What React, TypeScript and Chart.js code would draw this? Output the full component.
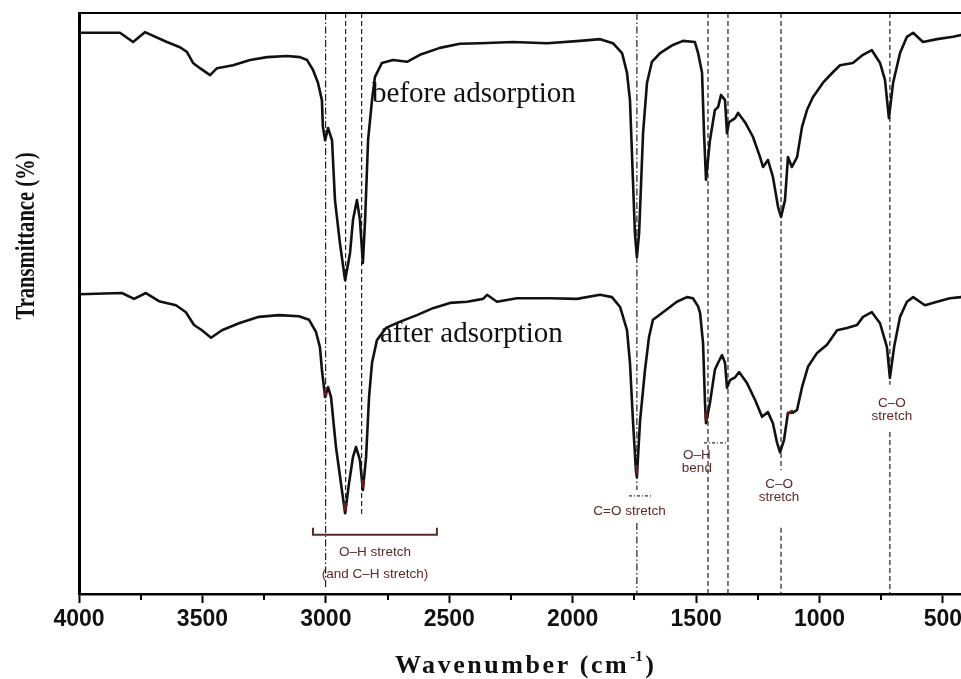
import React, { useEffect, useRef } from 'react';
import { Chart, registerables } from 'chart.js';

Chart.register(...registerables);

// ---------- axis ticks ----------
const WAVENUMBER_TICKS = [4000, 3500, 3000, 2500, 2000, 1500, 1000, 500];
const MINOR_TICKS = [3750, 3250, 2750, 2250, 1750, 1250, 750];

// ---------- spectrum: before adsorption ----------
const BEFORE_WN = [4000, 3834, 3781, 3733, 3644, 3591, 3563, 3538, 3510, 3469, 3441, 3376, 3307, 3238, 3157, 3105, 3076, 3052, 3032, 3016, 3012, 3003, 2991, 2975, 2963, 2943, 2922, 2902, 2890, 2874, 2862, 2850, 2841, 2829, 2813, 2801, 2773, 2728, 2671, 2619, 2538, 2457, 2376, 2242, 2104, 1970, 1889, 1837, 1800, 1780, 1768, 1756, 1748, 1740, 1731, 1715, 1699, 1679, 1646, 1594, 1553, 1505, 1492, 1476, 1468, 1460, 1444, 1424, 1411, 1399, 1383, 1375, 1367, 1342, 1330, 1302, 1270, 1241, 1229, 1209, 1189, 1168, 1156, 1140, 1128, 1112, 1091, 1071, 1051, 1027, 986, 946, 917, 865, 824, 788, 755, 735, 719, 702, 674, 646, 621, 581, 524, 459, 427, 269];
const BEFORE_T = [96.6, 96.6, 95.0, 96.7, 95.0, 94.1, 93.3, 91.4, 90.5, 89.3, 90.5, 91.0, 91.9, 92.4, 92.6, 92.4, 91.9, 90.2, 88.0, 85.0, 80.4, 78.1, 80.2, 78.1, 67.8, 60.4, 54.0, 58.7, 64.4, 67.8, 64.4, 57.0, 64.4, 78.1, 85.0, 89.0, 91.4, 91.9, 91.6, 92.8, 94.0, 94.7, 94.8, 95.0, 94.8, 95.2, 95.5, 94.8, 93.1, 89.7, 85.0, 71.3, 62.1, 58.0, 62.1, 79.3, 88.0, 91.6, 93.1, 94.5, 95.2, 95.0, 93.1, 89.7, 79.3, 71.3, 78.1, 83.3, 83.8, 85.9, 85.0, 79.3, 81.2, 81.9, 82.8, 81.2, 78.7, 75.2, 73.5, 74.7, 71.8, 66.6, 64.9, 67.8, 75.2, 73.5, 75.2, 80.4, 83.3, 85.5, 88.0, 89.8, 91.0, 91.4, 92.8, 93.6, 91.4, 88.5, 81.9, 88.0, 93.1, 95.9, 96.6, 95.0, 95.5, 95.9, 96.2, 96.2];

// ---------- spectrum: after adsorption ----------
const AFTER_WN = [4000, 3826, 3777, 3729, 3676, 3607, 3567, 3534, 3502, 3465, 3421, 3352, 3271, 3190, 3109, 3068, 3040, 3024, 3016, 3003, 2991, 2979, 2959, 2939, 2922, 2906, 2890, 2878, 2862, 2850, 2837, 2825, 2813, 2793, 2756, 2704, 2631, 2566, 2497, 2428, 2363, 2347, 2307, 2226, 2092, 1983, 1889, 1841, 1808, 1780, 1768, 1756, 1744, 1740, 1727, 1707, 1691, 1675, 1634, 1578, 1537, 1513, 1492, 1484, 1472, 1464, 1460, 1444, 1424, 1411, 1395, 1383, 1375, 1363, 1342, 1326, 1294, 1261, 1233, 1209, 1189, 1172, 1160, 1144, 1128, 1108, 1091, 1071, 1047, 1010, 970, 929, 889, 848, 824, 788, 755, 727, 715, 698, 674, 646, 621, 573, 524, 472, 427, 269];
const AFTER_T = [51.6, 51.8, 50.8, 51.8, 50.4, 49.7, 48.5, 46.3, 45.4, 44.1, 45.4, 46.6, 47.7, 48.0, 47.8, 47.2, 45.1, 42.5, 38.6, 33.9, 35.6, 33.9, 25.3, 19.1, 13.9, 19.1, 23.6, 25.3, 23.1, 17.9, 23.6, 33.9, 39.8, 43.7, 45.8, 46.8, 48.0, 49.2, 50.1, 50.3, 50.8, 51.5, 50.3, 50.9, 50.9, 50.8, 51.5, 51.1, 49.4, 45.4, 39.8, 29.9, 21.3, 20.1, 29.9, 38.6, 44.2, 47.2, 48.5, 50.3, 51.1, 50.9, 49.5, 48.4, 43.2, 32.9, 29.4, 32.9, 38.6, 39.8, 41.1, 39.8, 35.5, 36.8, 37.3, 38.2, 36.3, 33.4, 30.5, 31.3, 29.4, 26.0, 24.4, 26.5, 31.2, 31.2, 31.7, 35.6, 39.1, 41.5, 42.9, 45.4, 45.8, 46.3, 47.7, 48.5, 46.6, 42.5, 37.2, 42.5, 47.7, 50.3, 51.1, 49.7, 50.3, 50.9, 51.1, 51.1];

// dark-red highlighted bits on the "after" trace (null = break)
const HIGHLIGHT_WN = [3005, 2999, null, 2926, 2922, 2918, null, 2853, 2850, 2847, null, 1743, 1740, null, 1463, 1460, 1457, null, 1128, 1112];
const HIGHLIGHT_T = [35.0, 34.2, null, 15.5, 14.5, 15.5, null, 19.5, 18.5, 19.5, null, 22.0, 20.8, null, 31.0, 30.0, 31.0, null, 31.0, 31.5];

// ---------- band reference lines ----------
const REF_WN = [3001, 2920, 2855, 1740, 1452, 1371, 1156, 715];
const REF_SEGMENTS = [
  [[100, 1]],
  [[100, 13.3]],
  [[100, 13.3]],
  [[100, 17.9], [12.2, 0]],
  [[100, 0]],
  [[100, 0]],
  [[100, 21.3], [11.4, 0]],
  [[100, 36.0], [27.9, 0]],
];
const REF_DASHDOT = [true, false, false, true, false, false, false, false];

// ---------- band annotations ----------
const ANNOT_LABELS = ['O–H stretch', '(and C–H stretch)', 'C=O stretch', 'O–H', 'bend', 'C–O', 'stretch', 'C–O', 'stretch'];
const ANNOT_WN = [2801, 2801, 1770, 1497, 1497, 1164, 1164, 707, 707];
const ANNOT_T = [7.1, 3.4, 14.3, 23.9, 21.7, 18.9, 16.7, 32.9, 30.6];

const BRACKET_WN = [3052, 3052, 2550, 2550];
const BRACKET_T = [11.4, 10.2, 10.2, 11.4];
const CO_MARK_WN = [1772, 1679];
const CO_MARK_T = [16.9, 16.9];
const OH_MARK_WN = [1468, 1371];
const OH_MARK_T = [26.0, 26.0];

// ---------- series labels ----------
const SERIES_LABELS = ['before adsorption', 'after adsorption'];
const SERIES_LABEL_WN = [2813, 2781];
const SERIES_LABEL_T = [84.7, 43.4];

const X_TITLE = 'Wavenumber (cm';
const X_TITLE_SUP = '-1';
const Y_TITLE = 'Transmittance (%)';

const toPts = (xs: (number | null)[], ys: (number | null)[]) =>
  xs.map((x, i) => (x === null ? { x: NaN, y: null } : { x, y: ys[i] }));

const ANNOT_COLOR = '#5a2a2a';

const decorPlugin = {
  id: 'decor',
  afterDatasetsDraw(chart: any) {
    const { ctx, scales } = chart;
    const xs = scales.x;
    const ys = scales.y;
    ctx.save();
    ctx.fillStyle = ANNOT_COLOR;
    ctx.font = '13.5px "Liberation Sans", Arial, sans-serif';
    ctx.textAlign = 'center';
    ctx.textBaseline = 'middle';
    ANNOT_LABELS.forEach((t, i) => {
      ctx.fillText(t, xs.getPixelForValue(ANNOT_WN[i]), ys.getPixelForValue(ANNOT_T[i]));
    });
    ctx.fillStyle = '#111';
    ctx.font = '29px "Liberation Serif", "Times New Roman", serif';
    ctx.textAlign = 'left';
    ctx.textBaseline = 'alphabetic';
    SERIES_LABELS.forEach((t, i) => {
      ctx.fillText(t, xs.getPixelForValue(SERIES_LABEL_WN[i]), ys.getPixelForValue(SERIES_LABEL_T[i]));
    });
    ctx.restore();
  },
  afterDraw(chart: any) {
    const { ctx, chartArea, scales } = chart;
    const xs = scales.x;
    ctx.save();
    ctx.strokeStyle = '#000';
    ctx.lineWidth = 2;
    ctx.beginPath();
    ctx.moveTo(chartArea.left, chartArea.top);
    ctx.lineTo(chartArea.right, chartArea.top);
    ctx.stroke();
    MINOR_TICKS.forEach((v) => {
      const px = Math.round(xs.getPixelForValue(v));
      ctx.beginPath();
      ctx.moveTo(px, chartArea.bottom);
      ctx.lineTo(px, chartArea.bottom + 6);
      ctx.stroke();
    });

    ctx.fillStyle = '#111';
    ctx.save();
    ctx.translate(34, 236);
    ctx.rotate(-Math.PI / 2);
    ctx.font = 'bold 27px "Liberation Serif", "Times New Roman", serif';
    ctx.textAlign = 'center';
    ctx.textBaseline = 'alphabetic';
    const yw = ctx.measureText(Y_TITLE).width;
    ctx.scale(167 / yw, 1);
    ctx.fillText(Y_TITLE, 0, 0);
    ctx.restore();

    const bigFont = 'bold 26px "Liberation Serif", "Times New Roman", serif';
    const supFont = 'bold 15px "Liberation Serif", "Times New Roman", serif';
    ctx.font = bigFont;
    const wMain = ctx.measureText(X_TITLE).width;
    const wClose = ctx.measureText(')').width;
    ctx.font = supFont;
    const wSup = ctx.measureText(X_TITLE_SUP).width;
    const targetW = 258;
    const nChars = X_TITLE.length + 1;
    const ls = Math.max(0, (targetW - wMain - wSup - wClose) / nChars);
    const hasLS = 'letterSpacing' in ctx;
    const left = 395;
    const base = 673;
    ctx.textAlign = 'left';
    ctx.textBaseline = 'alphabetic';
    if (hasLS) {
      (ctx as any).letterSpacing = ls.toFixed(2) + 'px';
      ctx.font = bigFont;
      ctx.fillText(X_TITLE, left, base);
      const x1 = left + wMain + ls * X_TITLE.length;
      (ctx as any).letterSpacing = '0px';
      ctx.font = supFont;
      ctx.fillText(X_TITLE_SUP, x1 + 1, base - 12);
      ctx.font = bigFont;
      ctx.fillText(')', x1 + wSup + ls + 1, base);
    } else {
      const k = targetW / (wMain + wSup + wClose);
      ctx.save();
      ctx.translate(left, base);
      ctx.scale(k, 1);
      ctx.font = bigFont;
      ctx.fillText(X_TITLE, 0, 0);
      ctx.font = supFont;
      ctx.fillText(X_TITLE_SUP, wMain, -12);
      ctx.font = bigFont;
      ctx.fillText(')', wMain + wSup, 0);
      ctx.restore();
    }
    ctx.restore();
  },
};

export default function App() {
  const ref = useRef<HTMLCanvasElement | null>(null);

  useEffect(() => {
    if (!ref.current) return;
    const refSets: any[] = [];
    REF_WN.forEach((wn, i) => {
      REF_SEGMENTS[i].forEach(([a, b]) => {
        refSets.push({
          label: 'ref-' + wn,
          data: [{ x: wn, y: a }, { x: wn, y: b }],
          borderColor: '#222',
          borderWidth: 1.2,
          borderDash: REF_DASHDOT[i] ? [7, 2.5, 1.5, 2.5] : [5, 3],
          pointRadius: 0,
          order: 5,
        });
      });
    });

    const chart = new Chart(ref.current, {
      type: 'line',
      data: {
        datasets: [
          {
            label: 'highlight',
            data: toPts(HIGHLIGHT_WN, HIGHLIGHT_T),
            borderColor: '#6a1c1c',
            borderWidth: 2.6,
            borderJoinStyle: 'round',
            borderCapStyle: 'round',
            pointRadius: 0,
            spanGaps: false,
            order: -1,
          },
          {
            label: SERIES_LABELS[0],
            data: toPts(BEFORE_WN, BEFORE_T),
            borderColor: '#111',
            borderWidth: 2.6,
            pointRadius: 0,
            borderJoinStyle: 'round',
            order: 0,
          },
          {
            label: SERIES_LABELS[1],
            data: toPts(AFTER_WN, AFTER_T),
            borderColor: '#111',
            borderWidth: 2.6,
            pointRadius: 0,
            borderJoinStyle: 'round',
            order: 0,
          },
          {
            label: 'bracket',
            data: toPts(BRACKET_WN, BRACKET_T),
            borderColor: ANNOT_COLOR,
            borderWidth: 2,
            pointRadius: 0,
            order: 1,
          },
          {
            label: 'co-mark',
            data: toPts(CO_MARK_WN, CO_MARK_T),
            borderColor: '#333',
            borderWidth: 1.2,
            borderDash: [3, 2, 1, 2],
            pointRadius: 0,
            order: 1,
          },
          {
            label: 'oh-mark',
            data: toPts(OH_MARK_WN, OH_MARK_T),
            borderColor: '#333',
            borderWidth: 1.2,
            borderDash: [3, 2, 1, 2],
            pointRadius: 0,
            order: 1,
          },
          ...refSets,
        ],
      },
      options: {
        animation: false,
        responsive: false,
        maintainAspectRatio: false,
        devicePixelRatio: 1,
        layout: { padding: { top: 13, right: 0, left: 0, bottom: 0 } },
        plugins: {
          legend: { display: false },
          tooltip: { enabled: false },
          title: { display: false },
        },
        elements: { point: { radius: 0 }, line: { tension: 0 } },
        scales: {
          x: {
            type: 'linear',
            reverse: true,
            min: 269,
            max: 4000,
            afterBuildTicks: (s: any) => {
              s.ticks = WAVENUMBER_TICKS.map((v) => ({ value: v }));
            },
            afterFit: (s: any) => {
              s.height = 85;
            },
            grid: {
              display: true,
              drawOnChartArea: false,
              drawTicks: true,
              tickLength: 9,
              tickWidth: 2,
              tickColor: '#000',
            },
            border: { display: true, color: '#000', width: 2.5 },
            ticks: {
              color: '#111',
              font: { family: '"Liberation Sans", Arial, sans-serif', weight: 'bold', size: 23 },
              padding: 3,
              maxRotation: 0,
              autoSkip: false,
              callback: (v: any) => String(v),
            },
          },
          y: {
            type: 'linear',
            min: 0,
            max: 100,
            afterFit: (s: any) => {
              s.width = 79;
            },
            ticks: { display: false },
            grid: { display: false },
            border: { display: true, color: '#000', width: 3 },
          },
        },
      } as any,
      plugins: [decorPlugin],
    });
    return () => chart.destroy();
  }, []);

  return (
    <div
      style={{
        position: 'fixed',
        left: 0,
        top: 0,
        width: 961,
        height: 679,
        overflow: 'hidden',
        background: '#fff',
      }}
    >
      <canvas ref={ref} width={1000} height={679} style={{ display: 'block' }} />
    </div>
  );
}
